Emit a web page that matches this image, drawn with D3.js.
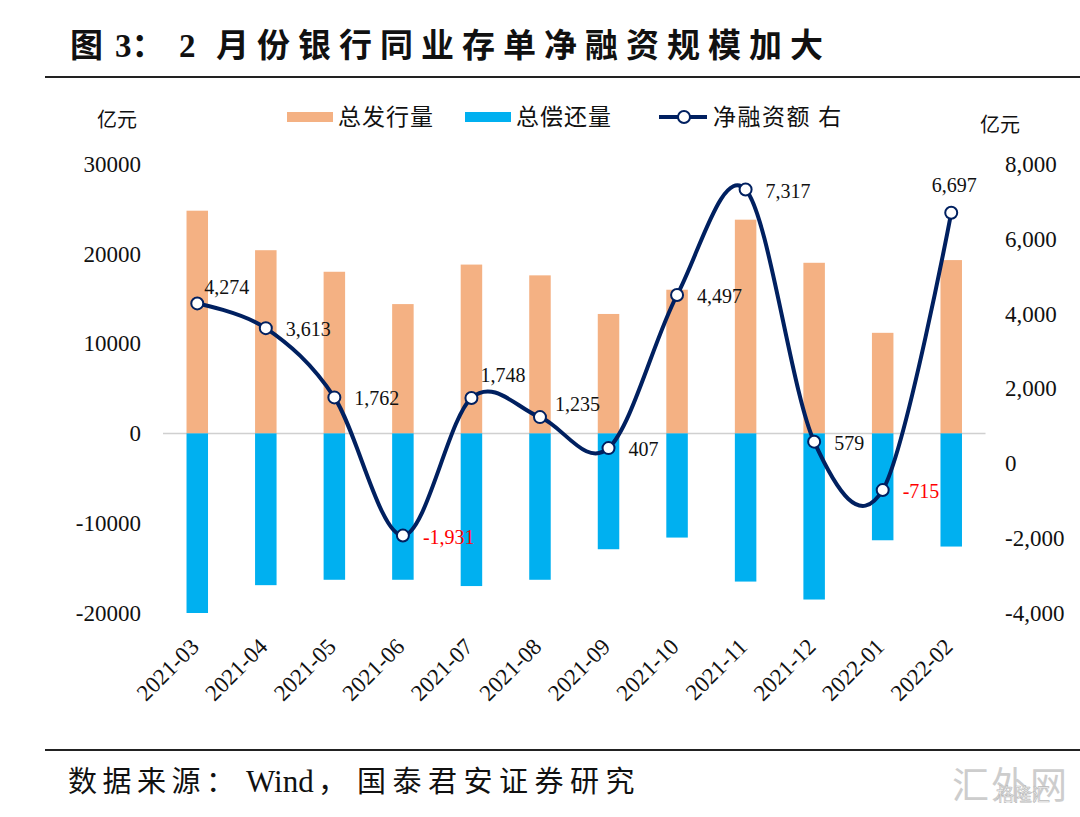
<!DOCTYPE html>
<html>
<head>
<meta charset="utf-8">
<script src="https://cdn.jsdelivr.net/npm/d3@7"></script>
<style>
  body { margin: 0; background: #fff; }
  svg text { font-family: "Liberation Serif", "Times New Roman", "Noto Sans CJK SC", serif; }
</style>
</head>
<body>
<div id="chart"></div>
<script>
// data
const months = ["2021-03", "2021-04", "2021-05", "2021-06", "2021-07", "2021-08",
                "2021-09", "2021-10", "2021-11", "2021-12", "2022-01", "2022-02"];
const issuance = [24800, 20400, 18000, 14400, 18800, 17600, 13300, 16000, 23800, 19000, 11200, 19300];
const repayment = [-20000, -16900, -16300, -16300, -17000, -16300, -12900, -11600, -16500, -18500, -11900, -12600];
const netFinancing = [4274, 3613, 1762, -1931, 1748, 1235, 407, 4497, 7317, 579, -715, 6697];
const leftTicks = [30000, 20000, 10000, 0, -10000, -20000];
const rightTicks = [8000, 6000, 4000, 2000, 0, -2000, -4000];

const svgWidth = 1080;
const svgHeight = 817;
const margins = { top: 164, right: 95, bottom: 204, left: 163 };

const svg = d3.select("#chart")
    .append("svg")
    .attr("width", svgWidth)
    .attr("height", svgHeight);

// plain hyphen instead of unicode minus
const fmtComma = v => d3.format(",")(v).replace("−", "-");
const fmtPlain = v => d3.format("d")(v).replace("−", "-");

// title + rules
const title = svg.append("text")
    .attr("y", 57)
    .attr("font-size", 33)
    .attr("font-weight", "bold")
    .attr("fill", "#111");
title.append("tspan").attr("x", 70).text("图");
title.append("tspan").attr("x", 115).text("3：");
title.append("tspan").attr("x", 179).text("2");
title.append("tspan").attr("x", 216).attr("letter-spacing", 8).text("月份银行同业存单净融资规模加大");

svg.append("line")
    .attr("x1", 45).attr("x2", 1080)
    .attr("y1", 77).attr("y2", 77)
    .attr("stroke", "#222").attr("stroke-width", 2);

svg.append("line")
    .attr("x1", 45).attr("x2", 1080)
    .attr("y1", 750).attr("y2", 750)
    .attr("stroke", "#222").attr("stroke-width", 2);

const source = svg.append("text")
    .attr("y", 792)
    .attr("font-size", 29)
    .attr("fill", "#111");
source.append("tspan").attr("x", 68).attr("letter-spacing", 5.5).text("数据来源：");
source.append("tspan").attr("x", 246).attr("font-size", 31).text("Wind");
source.append("tspan").attr("x", 318).text("，");
source.append("tspan").attr("x", 357).attr("letter-spacing", 6.5).text("国泰君安证券研究");

// watermark
svg.append("text")
    .attr("x", 952).attr("y", 799)
    .attr("font-size", 37)
    .attr("letter-spacing", 2)
    .attr("fill", "#cdcdcd")
    .text("汇外网");
svg.append("text")
    .attr("x", 996).attr("y", 801)
    .attr("font-size", 18)
    .attr("fill", "#f4f4f4")
    .attr("stroke", "#b8b8b8")
    .attr("stroke-width", 0.6)
    .text("格隆汇");

// scales
const x = d3.scaleBand()
    .domain(months)
    .range([margins.left, svgWidth - margins.right + 0.5])
    .paddingInner(0)
    .paddingOuter(0);

const yLeft = d3.scaleLinear()
    .domain([-20000, 30000])
    .range([613, 164]);

const yRight = d3.scaleLinear()
    .domain([-4000, 8000])
    .range([613, 164]);

const barW = 21.5;
const cx = d => x(d) + x.bandwidth() / 2;

// zero line
svg.append("line")
    .attr("x1", x.range()[0]).attr("x2", x.range()[1])
    .attr("y1", yLeft(0)).attr("y2", yLeft(0))
    .attr("stroke", "#d0d0d0").attr("stroke-width", 1.5);

// bars
svg.selectAll(".bar-issue")
    .data(months)
    .enter()
    .append("rect")
    .attr("class", "bar-issue")
    .attr("x", d => cx(d) - barW / 2)
    .attr("width", barW)
    .attr("y", (d, i) => yLeft(issuance[i]))
    .attr("height", (d, i) => yLeft(0) - yLeft(issuance[i]))
    .attr("fill", "#F4B183");

svg.selectAll(".bar-repay")
    .data(months)
    .enter()
    .append("rect")
    .attr("class", "bar-repay")
    .attr("x", d => cx(d) - barW / 2)
    .attr("width", barW)
    .attr("y", yLeft(0))
    .attr("height", (d, i) => yLeft(repayment[i]) - yLeft(0))
    .attr("fill", "#00B0F0");

// axes (no domain lines / ticks, only labels)
const leftAxis = d3.axisLeft(yLeft).tickValues(leftTicks).tickSize(0).tickPadding(0)
    .tickFormat(fmtPlain);
svg.append("g")
    .attr("transform", "translate(141,0)")
    .call(leftAxis)
    .call(g => g.select(".domain").remove())
    .call(g => g.selectAll("text")
        .attr("font-size", 23)
        .attr("fill", "#111")
        .attr("font-family", "Liberation Serif, serif"));

const rightAxis = d3.axisRight(yRight).tickValues(rightTicks).tickSize(0).tickPadding(0)
    .tickFormat(fmtComma);
svg.append("g")
    .attr("transform", "translate(1005,0)")
    .call(rightAxis)
    .call(g => g.select(".domain").remove())
    .call(g => g.selectAll("text")
        .attr("font-size", 23)
        .attr("fill", "#111")
        .attr("font-family", "Liberation Serif, serif"));

// x labels, rotated
svg.append("g")
    .selectAll("text")
    .data(months)
    .enter()
    .append("text")
    .attr("transform", d => `translate(${cx(d) + 3}, 648) rotate(-45)`)
    .attr("text-anchor", "end")
    .attr("font-size", 23)
    .attr("fill", "#111")
    .text(d => d);

// unit labels
svg.append("text").attr("x", 97).attr("y", 127).attr("font-size", 20).attr("fill", "#111").text("亿元");
svg.append("text").attr("x", 980).attr("y", 132).attr("font-size", 20).attr("fill", "#111").text("亿元");

// net financing line
const line = d3.line()
    .x((d, i) => cx(months[i]))
    .y(d => yRight(d))
    .curve(d3.curveCardinal.tension(0));

svg.append("path")
    .datum(netFinancing)
    .attr("d", line)
    .attr("fill", "none")
    .attr("stroke", "#002060")
    .attr("stroke-width", 4);

svg.selectAll(".dot")
    .data(netFinancing)
    .enter()
    .append("circle")
    .attr("class", "dot")
    .attr("cx", (d, i) => cx(months[i]))
    .attr("cy", d => yRight(d))
    .attr("r", 6)
    .attr("fill", "#fff")
    .attr("stroke", "#002060")
    .attr("stroke-width", 2);

// data labels: most sit to the right of the point, a few above
const labelPlace = { 0: [7, -16, "start"], 4: [9, -23, "start"], 5: [15, -13, "start"], 11: [3, -28, "middle"] };
svg.selectAll(".dlabel")
    .data(netFinancing)
    .enter()
    .append("text")
    .attr("class", "dlabel")
    .attr("x", (d, i) => cx(months[i]) + (labelPlace[i] ? labelPlace[i][0] : 20))
    .attr("y", (d, i) => yRight(d) + (labelPlace[i] ? labelPlace[i][1] : 1))
    .attr("dy", "0.35em")
    .attr("text-anchor", (d, i) => labelPlace[i] ? labelPlace[i][2] : "start")
    .attr("font-size", 20)
    .attr("fill", d => d < 0 ? "#FF0000" : "#111")
    .text(d => fmtComma(d));

// legend
const legend = svg.append("g");
legend.append("rect").attr("x", 287).attr("y", 112).attr("width", 46).attr("height", 10).attr("fill", "#F4B183");
legend.append("text").attr("x", 338).attr("y", 125).attr("font-size", 23).attr("letter-spacing", 1)
    .attr("fill", "#111").text("总发行量");
legend.append("rect").attr("x", 465).attr("y", 112).attr("width", 46).attr("height", 10).attr("fill", "#00B0F0");
legend.append("text").attr("x", 516).attr("y", 125).attr("font-size", 23).attr("letter-spacing", 1)
    .attr("fill", "#111").text("总偿还量");
legend.append("line").attr("x1", 659).attr("x2", 707).attr("y1", 117).attr("y2", 117)
    .attr("stroke", "#002060").attr("stroke-width", 4);
legend.append("circle").attr("cx", 684).attr("cy", 117).attr("r", 6)
    .attr("fill", "#fff").attr("stroke", "#002060").attr("stroke-width", 2);
legend.append("text").attr("x", 713).attr("y", 125).attr("font-size", 23).attr("letter-spacing", 1.5)
    .attr("fill", "#111").text("净融资额 右");
</script>
</body>
</html>
